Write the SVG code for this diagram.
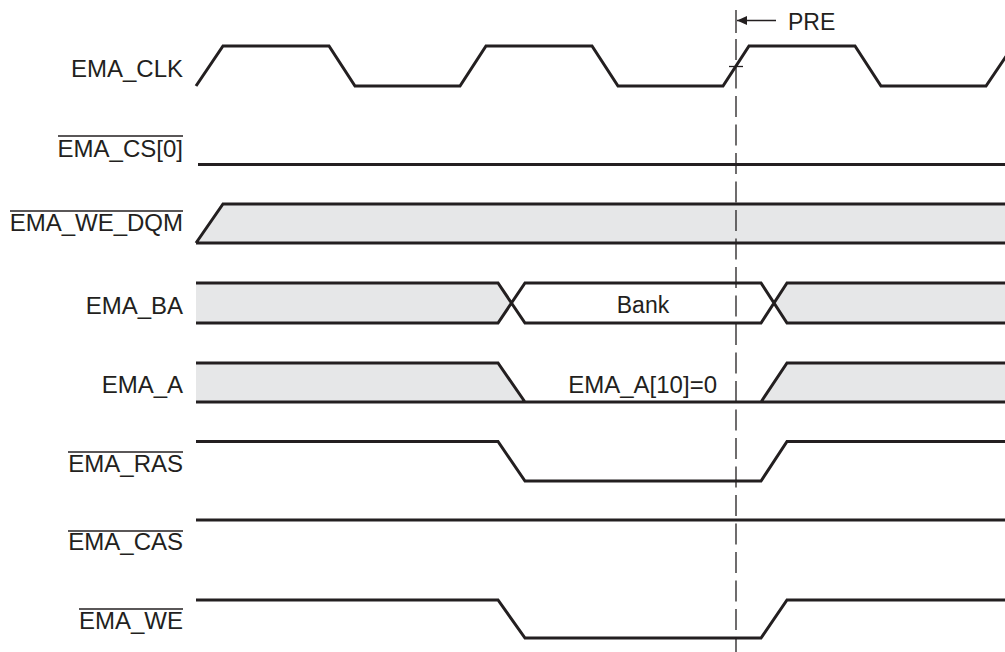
<svg xmlns="http://www.w3.org/2000/svg" width="1005" height="652" viewBox="0 0 1005 652">
<defs>
<style>
.lbl{font-family:"Liberation Sans",Arial,sans-serif;font-size:24px;fill:#231f20;text-anchor:end}
.in{font-family:"Liberation Sans",Arial,sans-serif;font-size:23px;fill:#231f20;text-anchor:middle}
.sig{fill:none;stroke:#231f20;stroke-width:3;stroke-linejoin:miter;stroke-linecap:butt}
.bus{fill:#e6e7e8;stroke:none}
.ovl{stroke:#231f20;stroke-width:1.5}
.thin{stroke:#231f20;stroke-width:1.3;fill:none}
</style>
<marker id="ah" markerWidth="10" markerHeight="9" refX="10" refY="4.5" orient="auto" markerUnits="userSpaceOnUse">
<path d="M0,0 L10,4.5 L0,9 Z" fill="#231f20"/>
</marker>
</defs>
<rect width="1005" height="652" fill="#ffffff"/>

<g id="clk">
<text class="lbl" x="183" y="77">EMA_CLK</text>
<path class="sig" d="M196,86 L223,46 H329 L355,86 H460 L486,46 H592 L618,86 H723 L749,46 H855 L881,86 H986 L1013,46"/>
</g>

<g id="cs0">
<text class="lbl" x="183" y="157">EMA_CS[0]</text>
<line class="ovl" x1="58" y1="136" x2="183" y2="136"/>
<path class="sig" d="M198,164.5 H1005"/>
</g>

<g id="we_dqm">
<text class="lbl" x="183" y="231">EMA_WE_DQM</text>
<line class="ovl" x1="10" y1="211" x2="183" y2="211"/>
<path class="bus" d="M196,243 L223,204 H1005 V243 Z"/>
<path class="sig" d="M196,243 L223,204 H1005 M196,243 H1005"/>
</g>

<g id="ba">
<text class="lbl" x="183" y="314">EMA_BA</text>
<path class="bus" d="M196,283 H498 L512,303 L498,323 H196 Z"/>
<path class="bus" d="M773,303 L787,283 H1005 V323 H787 Z"/>
<path class="sig" d="M196,283 H498 L525,323 H761 L787,283 H1005 M196,323 H498 L525,283 H761 L787,323 H1005"/>
<text class="in" x="643" y="313">Bank</text>
</g>

<g id="addr">
<text class="lbl" x="183" y="393">EMA_A</text>
<path class="bus" d="M196,363 H498 L525,402 H196 Z"/>
<path class="bus" d="M761,402 L787,363 H1005 V402 Z"/>
<path class="sig" d="M196,363 H498 L525,402 M196,402 H1005 M761,402 L787,363 H1005"/>
<text class="lbl" x="717" y="393">EMA_A[10]=0</text>
</g>

<g id="ras">
<text class="lbl" x="183" y="472">EMA_RAS</text>
<line class="ovl" x1="68" y1="452" x2="183" y2="452"/>
<path class="sig" d="M196,441.5 H498 L525,481 H761 L787,441.5 H1005"/>
</g>

<g id="cas">
<text class="lbl" x="183" y="550">EMA_CAS</text>
<line class="ovl" x1="68" y1="531" x2="183" y2="531"/>
<path class="sig" d="M196,520 H1005"/>
</g>

<g id="we">
<text class="lbl" x="183" y="629">EMA_WE</text>
<line class="ovl" x1="79" y1="609" x2="183" y2="609"/>
<path class="sig" d="M196,600 H498 L525,638 H761 L787,600 H1005"/>
</g>

<g id="connectors">
<line class="thin" x1="736" y1="10" x2="736" y2="33"/>
<line class="thin" x1="736" y1="39" x2="736" y2="652" stroke-dasharray="21 7.5"/>
<line class="thin" x1="729" y1="66.5" x2="743" y2="66.5"/>
<line class="thin" x1="776" y1="20.5" x2="737" y2="20.5" marker-end="url(#ah)"/>
<text class="in" x="788" y="30" style="text-anchor:start">PRE</text>
</g>
</svg>
